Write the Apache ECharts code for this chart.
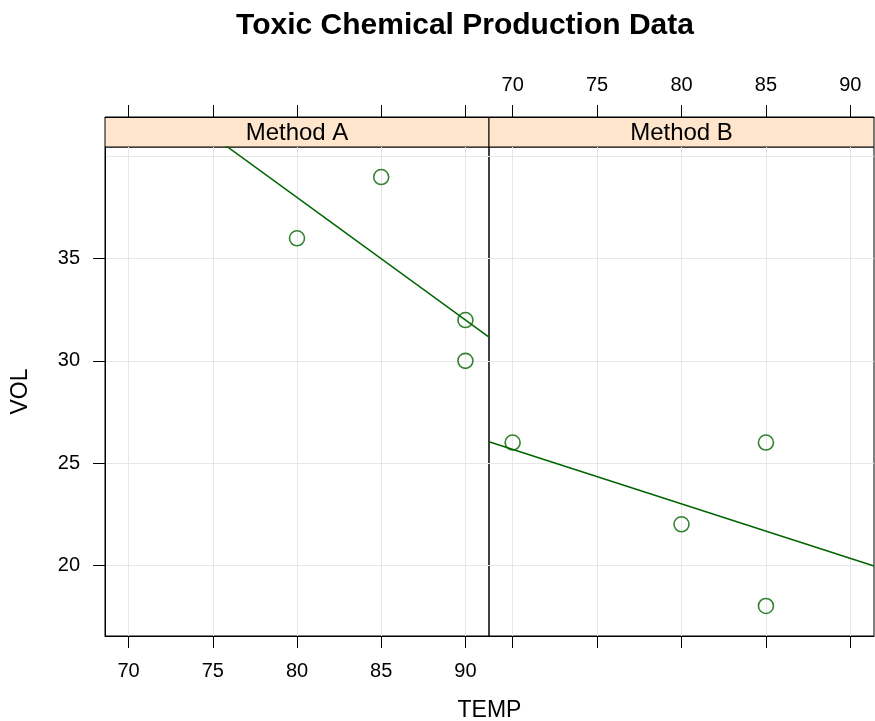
<!DOCTYPE html>
<html>
<head>
<meta charset="utf-8">
<script src="https://cdn.jsdelivr.net/npm/echarts@6/dist/echarts.min.js"></script>
<style>
  html, body { margin: 0; padding: 0; background: #fff; }
  #chart { width: 875px; height: 721px; }
</style>
</head>
<body>
<div id="chart"></div>
<script>
// Toxic chemical production: volume vs temperature, one panel per method
const methods = ['Method A', 'Method B'];
const tempA = [80, 85, 90, 90];
const volA  = [36, 39, 32, 30];
const tempB = [70, 80, 85, 85];
const volB  = [26, 22, 26, 18];

const xTicks = [70, 75, 80, 85, 90];
const yTicks = [20, 25, 30, 35];
const yGridValues = [20, 25, 30, 35, 40];

const titleText = 'Toxic Chemical Production Data';
const xName = 'TEMP';
const yName = 'VOL';

// Shared axis extents: data range widened by 7% on each side
function extent(values) {
  const lo = Math.min(...values), hi = Math.max(...values);
  const pad = (hi - lo) * 0.07;
  return [lo - pad, hi + pad];
}
const [xMin, xMax] = extent(tempA.concat(tempB));
const [yMin, yMax] = extent(volA.concat(volB));

// Least-squares line for a panel, spanning the full x extent
function fitLine(xs, ys) {
  const n = xs.length;
  const mx = xs.reduce((s, v) => s + v, 0) / n;
  const my = ys.reduce((s, v) => s + v, 0) / n;
  let sxy = 0, sxx = 0;
  for (let i = 0; i < n; i++) {
    sxy += (xs[i] - mx) * (ys[i] - my);
    sxx += (xs[i] - mx) * (xs[i] - mx);
  }
  const b = sxy / sxx, a = my - b * mx;
  return [[xMin, a + b * xMin], [xMax, a + b * xMax]];
}
const pairs = (xs, ys) => xs.map((x, i) => [x, ys[i]]);

// Layout
const FONT = 'Liberation Sans, Arial, sans-serif';
const PANEL_TOP = 147, PANEL_H = 489;
const STRIP_TOP = 117, STRIP_H = 30;
const A_LEFT = 105, A_W = 384;
const B_LEFT = 489, B_W = 385;
const GREEN = '#006400';
const GRIDLINE = '#e6e6e6';

const tickStyle = { show: true, length: 12, lineStyle: { color: '#000', width: 1 } };
const labelStyle = { color: '#000', fontSize: 20, fontFamily: FONT };

function xAxisFor(gridIndex, position, withLabels, withSplit) {
  return {
    type: 'value', gridIndex, position, min: xMin, max: xMax,
    axisLine: { show: true, onZero: false, lineStyle: { color: '#000', width: 1 } },
    axisTick: Object.assign({ customValues: xTicks }, tickStyle),
    axisLabel: Object.assign({ show: withLabels, customValues: xTicks, margin: position === 'top' ? 22 : 25 }, labelStyle),
    splitLine: { show: withSplit, lineStyle: { color: GRIDLINE, width: 1 } }
  };
}

const option = {
  animation: false,
  backgroundColor: '#fff',
  grid: [
    { left: A_LEFT, top: PANEL_TOP, width: A_W, height: PANEL_H, show: true, borderColor: '#000', borderWidth: 1, backgroundColor: 'transparent' },
    { left: B_LEFT, top: PANEL_TOP, width: B_W, height: PANEL_H, show: true, borderColor: '#000', borderWidth: 1, backgroundColor: 'transparent' },
    { left: A_LEFT, top: STRIP_TOP, width: A_W, height: STRIP_H, show: true, borderColor: '#000', borderWidth: 1, backgroundColor: '#ffe5cc' },
    { left: B_LEFT, top: STRIP_TOP, width: B_W, height: STRIP_H, show: true, borderColor: '#000', borderWidth: 1, backgroundColor: '#ffe5cc' }
  ],
  xAxis: [
    xAxisFor(0, 'bottom', true, true),
    xAxisFor(1, 'bottom', false, true),
    xAxisFor(2, 'top', false, false),
    xAxisFor(3, 'top', true, false)
  ],
  yAxis: [
    {
      type: 'value', gridIndex: 0, position: 'left', min: yMin, max: yMax,
      axisLine: { show: true, onZero: false, lineStyle: { color: '#000', width: 1 } },
      axisTick: Object.assign({ customValues: yTicks }, tickStyle),
      axisLabel: Object.assign({ customValues: yTicks, margin: 25 }, labelStyle),
      splitLine: { show: false }
    },
    {
      type: 'value', gridIndex: 0, min: yMin, max: yMax,
      axisLine: { show: false }, axisLabel: { show: false },
      axisTick: { show: false, customValues: yGridValues },
      splitLine: { show: true, lineStyle: { color: GRIDLINE, width: 1 } }
    },
    {
      type: 'value', gridIndex: 1, min: yMin, max: yMax,
      axisLine: { show: false }, axisLabel: { show: false },
      axisTick: { show: false, customValues: yGridValues },
      splitLine: { show: true, lineStyle: { color: GRIDLINE, width: 1 } }
    },
    { type: 'value', gridIndex: 2, min: 0, max: 1, show: false },
    { type: 'value', gridIndex: 3, min: 0, max: 1, show: false }
  ],
  series: [
    {
      name: methods[0] + ' fit', type: 'line', xAxisIndex: 0, yAxisIndex: 0,
      data: fitLine(tempA, volA), showSymbol: false, clip: true, silent: true,
      lineStyle: { color: GREEN, width: 1.5 }
    },
    {
      name: methods[0], type: 'scatter', xAxisIndex: 0, yAxisIndex: 0,
      data: pairs(tempA, volA), symbol: 'circle', symbolSize: 15,
      itemStyle: { color: 'rgba(0,0,0,0)', borderColor: GREEN, borderWidth: 1.6 }
    },
    {
      name: methods[1] + ' fit', type: 'line', xAxisIndex: 1, yAxisIndex: 2,
      data: fitLine(tempB, volB), showSymbol: false, clip: true, silent: true,
      lineStyle: { color: GREEN, width: 1.5 }
    },
    {
      name: methods[1], type: 'scatter', xAxisIndex: 1, yAxisIndex: 2,
      data: pairs(tempB, volB), symbol: 'circle', symbolSize: 15,
      itemStyle: { color: 'rgba(0,0,0,0)', borderColor: GREEN, borderWidth: 1.6 }
    }
  ],
  graphic: [
    {
      type: 'text', x: 465, y: 26,
      style: { text: titleText, font: 'bold 30px ' + FONT, fill: '#000', align: 'center', verticalAlign: 'middle' }
    },
    {
      type: 'text', x: A_LEFT + A_W / 2, y: STRIP_TOP + STRIP_H / 2 + 1,
      style: { text: methods[0], font: '24px ' + FONT, fill: '#000', align: 'center', verticalAlign: 'middle' }
    },
    {
      type: 'text', x: B_LEFT + B_W / 2, y: STRIP_TOP + STRIP_H / 2 + 1,
      style: { text: methods[1], font: '24px ' + FONT, fill: '#000', align: 'center', verticalAlign: 'middle' }
    },
    {
      type: 'text', x: (A_LEFT + B_LEFT + B_W) / 2, y: 711,
      style: { text: xName, font: '23px ' + FONT, fill: '#000', align: 'center', verticalAlign: 'middle' }
    },
    {
      type: 'text', x: 21, y: PANEL_TOP + PANEL_H / 2, rotation: Math.PI / 2,
      style: { text: yName, font: '23px ' + FONT, fill: '#000', align: 'center', verticalAlign: 'middle' }
    }
  ]
};

const chart = echarts.init(document.getElementById('chart'), null, { renderer: 'canvas' });
chart.setOption(option);
</script>
</body>
</html>
